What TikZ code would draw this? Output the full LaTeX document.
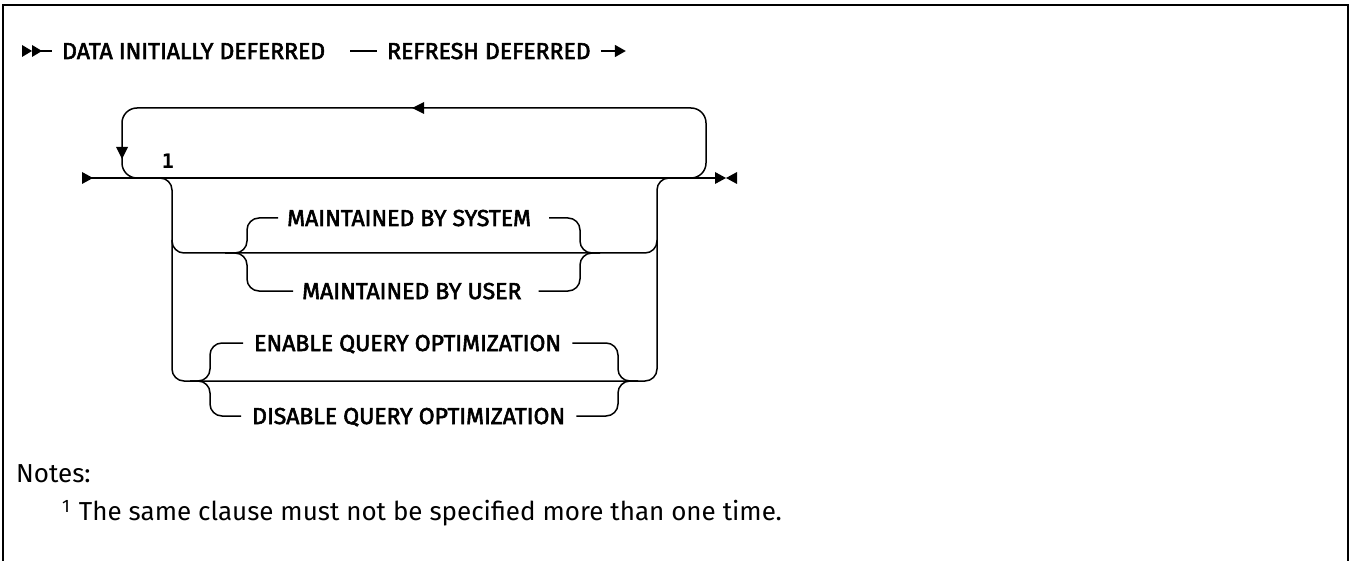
\documentclass[tikz,border=0pt]{standalone}
\usepackage{fontspec}
\setmainfont{Fira Sans}
\setmonofont{DejaVu Sans Mono}
\newfontfamily\kwfont[FakeBold=2.5]{Fira Sans}
\usetikzlibrary{arrows.meta,positioning}

\begin{document}
\begin{tikzpicture}[x=1pt, y=-1pt,
    rail/.style={line width=1.5pt, rounded corners=12pt},
    kw/.style={font=\kwfont\fontsize{23}{23}\selectfont, inner sep=0pt,
      text height=16pt, text depth=0pt, anchor=west},
    note/.style={font=\fontsize{26}{26}\selectfont, inner sep=0pt, anchor=west}]
  \useasboundingbox (0,0) rectangle (1351,561);
  % frame, open at the bottom
  \draw[line width=2.5pt] (3,561) -- (3,5) -- (1348,5) -- (1348,561);

  % first line
  \fill (22,45) -- (32,51) -- (22,57) -- cycle;
  \fill (32,45) -- (42,51) -- (32,57) -- cycle;
  \coordinate (go) at (32,51);
  \node[kw] (data) at (62,51) {DATA INITIALLY DEFERRED};
  \node[kw] (refresh) at (387,51) {REFRESH DEFERRED};
  \draw[rail] (go) -- ([xshift=-10pt]data.west);
  \draw[rail] ([xshift=25pt]data.east) -- ([xshift=-10pt]refresh.west);
  \draw[rail, -{Triangle[length=11pt,width=12pt]}] ([xshift=10pt]refresh.east) -- ++(25,0);

  % second line
  \coordinate (start) at (82,178);
  \coordinate (stop) at (715,178);
  \fill (82,172) -- (93,178) -- (82,184) -- cycle;
  \draw[rail] (start) -- (stop);
  \fill (715,172) -- (726,178) -- (715,184) -- cycle;
  \fill (737,172) -- (726,178) -- (737,184) -- cycle;

  % repeat loop
  \draw[rail, rounded corners=15pt] (680,178) -| (706,108) -| (122,178) -- (150,178);
  \fill (412,108) -- (424,102) -- (424,114) -- cycle;
  \fill (122,159) -- (116,147) -- (128,147) -- cycle;
  \node[font=\ttfamily\bfseries\fontsize{20}{20}\selectfont, inner sep=0pt] (fn) at (168,161) {1};

  % choices
  \draw[rail] (150,178) -| (172,381) -| (657,178) -- (680,178);
  \draw[rail] (172,240) |- (200,253) -- (630,253) -| (657,240);

  \node[kw] (sys) at (287,218) {MAINTAINED BY SYSTEM};
  \node[kw] (usr) at (302,291) {MAINTAINED BY USER};
  \draw[rail] (225,253) -| (247,218) -- ([xshift=-9pt]sys.west);
  \draw[rail] (225,253) -| (247,291) -- ([xshift=-9pt]usr.west);
  \draw[rail] ([xshift=18pt]sys.east) -| (580,253) -- (600,253);
  \draw[rail] ([xshift=17pt]usr.east) -| (580,253) -- (600,253);

  \node[kw] (enable) at (254,343) {ENABLE QUERY OPTIMIZATION};
  \node[kw] (disable) at (252,416) {DISABLE QUERY OPTIMIZATION};
  \draw[rail] (190,381) -| (210,343) -- ([xshift=-11pt]enable.west);
  \draw[rail] (190,381) -| (210,416) -- ([xshift=-11pt]disable.west);
  \draw[rail] ([xshift=11pt]enable.east) -| (618,381) -- (638,381);
  \draw[rail] ([xshift=11pt]disable.east) -| (618,381) -- (638,381);

  % notes
  \node[note] (notes) at (16,474) {Notes:};
  \node[note] (n1) at (62,513) {\raisebox{8pt}{\fontsize{18}{18}\selectfont 1}\hspace{9pt}The same clause must not be specified more than one time.};
\end{tikzpicture}
\end{document}
